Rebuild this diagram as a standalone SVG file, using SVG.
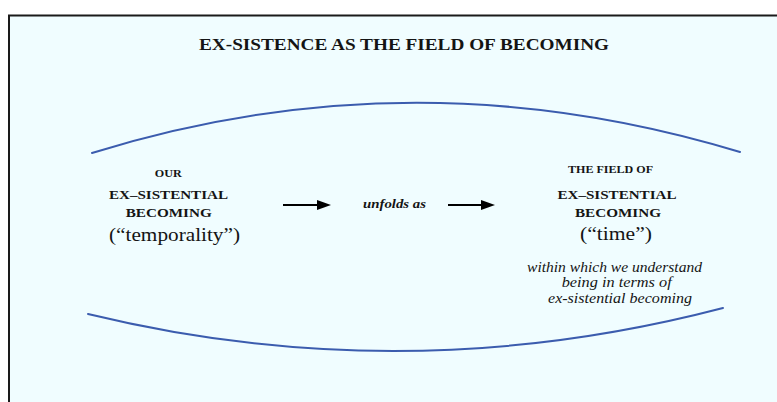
<svg xmlns="http://www.w3.org/2000/svg" width="777" height="402" viewBox="0 0 777 402">
  <style>
    .serif { font-family: "Liberation Serif", "Times New Roman", serif; fill: #141414; }
    .b { font-weight: bold; }
    .i { font-style: italic; }
    .arc { fill: none; stroke: #3b5cae; stroke-width: 2; stroke-linecap: round; }
    .conn { stroke: #000; stroke-width: 2.2; fill: none; }
  </style>
  <defs>
    <marker id="ah" viewBox="0 0 14 10" refX="8" refY="5" markerWidth="14" markerHeight="10" markerUnits="userSpaceOnUse" orient="auto">
      <path d="M0,0 L14,5 L0,10 Z" fill="#000"/>
    </marker>
  </defs>

  <rect x="0" y="0" width="777" height="402" fill="#ffffff"/>
  <g id="frame">
    <rect x="9" y="15.5" width="790" height="410" fill="#f0fdff" stroke="#1a1a1a" stroke-width="2"/>
  </g>

  <g id="title">
    <text class="serif b" x="404" y="50" font-size="16" text-anchor="middle" textLength="410" lengthAdjust="spacingAndGlyphs">EX-SISTENCE AS THE FIELD OF BECOMING</text>
  </g>

  <g id="field-boundary">
    <path class="arc" d="M92,153 Q414,53 740,152"/>
    <path class="arc" d="M88,314 Q405,391 723,308"/>
  </g>

  <g id="node-our-becoming">
    <text class="serif b" x="168.3" y="176.5" font-size="10.5" text-anchor="middle" textLength="27" lengthAdjust="spacingAndGlyphs">OUR</text>
    <text class="serif b" x="168.5" y="199" font-size="13" text-anchor="middle" textLength="119" lengthAdjust="spacingAndGlyphs">EX–SISTENTIAL</text>
    <text class="serif b" x="168.7" y="216.5" font-size="13" text-anchor="middle" textLength="86" lengthAdjust="spacingAndGlyphs">BECOMING</text>
    <text class="serif" x="174.5" y="240.5" font-size="18" text-anchor="middle" textLength="131" lengthAdjust="spacingAndGlyphs">(“temporality”)</text>
  </g>

  <g id="connectors">
    <line class="conn" x1="283" y1="205" x2="325" y2="205" marker-end="url(#ah)"/>
    <text class="serif b i" x="394.5" y="207.5" font-size="12.5" text-anchor="middle" textLength="63" lengthAdjust="spacingAndGlyphs">unfolds as</text>
    <line class="conn" x1="448" y1="205" x2="489" y2="205" marker-end="url(#ah)"/>
  </g>

  <g id="node-field-of-becoming">
    <text class="serif b" x="610.5" y="172.5" font-size="10.5" text-anchor="middle" textLength="85" lengthAdjust="spacingAndGlyphs">THE FIELD OF</text>
    <text class="serif b" x="617" y="198.5" font-size="13" text-anchor="middle" textLength="119" lengthAdjust="spacingAndGlyphs">EX–SISTENTIAL</text>
    <text class="serif b" x="618" y="216.5" font-size="13" text-anchor="middle" textLength="86" lengthAdjust="spacingAndGlyphs">BECOMING</text>
    <text class="serif" x="616" y="240" font-size="18" text-anchor="middle" textLength="72" lengthAdjust="spacingAndGlyphs">(“time”)</text>
    <text class="serif i" x="614.5" y="272" font-size="14" text-anchor="middle" textLength="175" lengthAdjust="spacingAndGlyphs">within which we understand</text>
    <text class="serif i" x="616.7" y="287" font-size="14" text-anchor="middle" textLength="110" lengthAdjust="spacingAndGlyphs">being in terms of</text>
    <text class="serif i" x="620" y="302.5" font-size="14" text-anchor="middle" textLength="144" lengthAdjust="spacingAndGlyphs">ex-sistential becoming</text>
  </g>
</svg>
